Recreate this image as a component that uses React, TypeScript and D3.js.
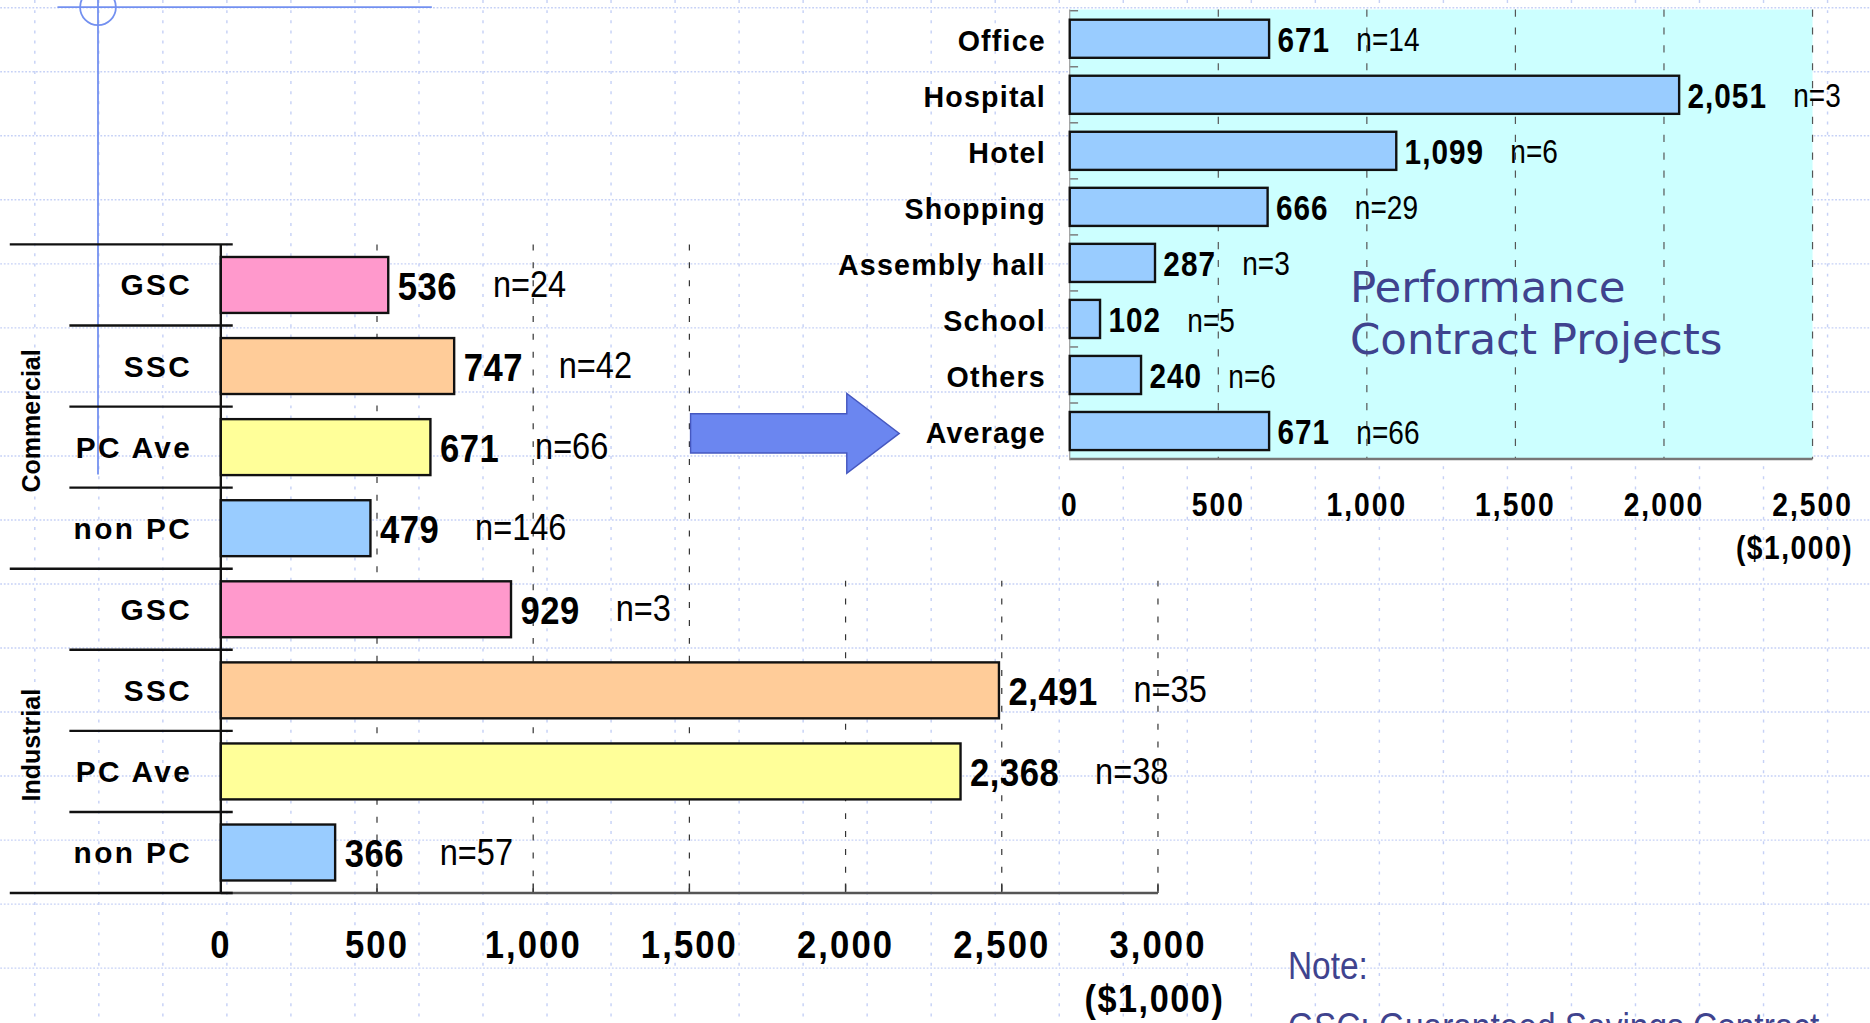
import React, { useEffect, useRef } from 'react';
import * as d3 from 'd3';

// left chart: cost per project by contract type
const groups = ['Commercial', 'Industrial'];
const contractTypes = ['GSC', 'SSC', 'PC Ave', 'non PC'];
const commercialCost = [536, 747, 671, 479];
const commercialCount = [24, 42, 66, 146];
const industrialCost = [929, 2491, 2368, 366];
const industrialCount = [3, 35, 38, 57];
const typeColors = ['#ff99cc', '#ffcc99', '#ffff99', '#99ccff'];
const leftTicks = [0, 500, 1000, 1500, 2000, 2500, 3000];

// right chart: performance contract projects by building type
const buildingTypes = ['Office', 'Hospital', 'Hotel', 'Shopping', 'Assembly hall', 'School', 'Others', 'Average'];
const pcCost = [671, 2051, 1099, 666, 287, 102, 240, 671];
const pcCount = [14, 3, 6, 29, 3, 5, 6, 66];
const rightTicks = [0, 500, 1000, 1500, 2000, 2500];

const W = 1568;
const H = 858;
const SANS = "'Liberation Sans', Arial, sans-serif";
const NAVY = '#3f438e';

type Sel = d3.Selection<SVGGElement, unknown, null, undefined>;

// narrow-looking text: no narrow font installed, so squeeze Liberation Sans horizontally
function narrowText(parent: Sel, x: number, y: number, sx: number, size: number, txt: string,
    opts: { bold?: boolean; anchor?: string; spacing?: number; fill?: string; baseline?: string } = {}) {
    const g = parent.append('g').attr('transform', `translate(${x},${y}) scale(${sx},1)`);
    const t = g.append('text')
        .attr('text-anchor', opts.anchor || 'start')
        .attr('dominant-baseline', opts.baseline || 'central')
        .attr('font-family', SANS)
        .attr('font-weight', opts.bold ? 'bold' : 'normal')
        .attr('font-size', size)
        .attr('letter-spacing', opts.spacing || 0)
        .attr('fill', opts.fill || '#000')
        .text(txt);
    return (t.node() as SVGTextElement).getComputedTextLength() * sx;
}

function drawSlide(svgRef: React.RefObject<SVGSVGElement>) {
    const svg = d3.select(svgRef.current);
    svg.selectAll('*').remove();
    const root = svg.append('g') as unknown as Sel;

    root.append('rect').attr('width', W).attr('height', H).attr('fill', '#fff');

    // slide grid
    const grid = root.append('g');
    d3.range(0, 17).forEach(k => {
        grid.append('line')
            .attr('x1', 0).attr('x2', W)
            .attr('y1', 6.5 + 53.7 * k).attr('y2', 6.5 + 53.7 * k)
            .attr('stroke', '#c6d1f6').attr('stroke-width', 1.2)
            .attr('stroke-dasharray', '1.5,1.5');
    });
    d3.range(0, 30).forEach(k => {
        grid.append('line')
            .attr('y1', 0).attr('y2', H)
            .attr('x1', 29 + 53.7 * k).attr('x2', 29 + 53.7 * k)
            .attr('stroke', '#c6d1f6').attr('stroke-width', 1.2)
            .attr('stroke-dasharray', '2.5,6');
    });

    // decorative slide marks
    root.append('line').attr('x1', 48).attr('x2', 362).attr('y1', 6).attr('y2', 6)
        .attr('stroke', '#7390f0').attr('stroke-width', 1.5);
    root.append('line').attr('x1', 82).attr('x2', 82).attr('y1', 0).attr('y2', 398)
        .attr('stroke', '#7390f0').attr('stroke-width', 1.5);
    root.append('circle').attr('cx', 82).attr('cy', 6).attr('r', 15)
        .attr('fill', 'none').attr('stroke', '#7390f0').attr('stroke-width', 1.5);

    // ---------- left chart ----------
    const rows = groups.flatMap(g => contractTypes.map(t => `${g}|${t}`));
    const leftData = groups.flatMap((g, gi) => contractTypes.map((t, ti) => ({
        id: `${g}|${t}`,
        type: t,
        color: typeColors[ti],
        cost: gi === 0 ? commercialCost[ti] : industrialCost[ti],
        n: gi === 0 ? commercialCount[ti] : industrialCount[ti],
    })));

    const yl = d3.scaleBand().domain(rows).range([205, 749]).paddingInner(0.31).paddingOuter(0.155);
    const xl = d3.scaleLinear().domain([0, 3000]).range([185, 971]);
    const stepL = yl.step();

    const left = root.append('g') as Sel;

    // dashed value lines
    leftTicks.slice(1).forEach(v => {
        left.append('line')
            .attr('x1', xl(v)).attr('x2', xl(v))
            .attr('y1', v <= 1500 ? 205 : 487).attr('y2', 749)
            .attr('stroke', '#333').attr('stroke-width', 1)
            .attr('stroke-dasharray', '5,10');
        left.append('line')
            .attr('x1', xl(v)).attr('x2', xl(v))
            .attr('y1', 741).attr('y2', 749)
            .attr('stroke', '#333').attr('stroke-width', 1.2);
    });

    // row separators
    rows.forEach((r, i) => {
        if (i === 0) return;
        const y = (yl(r) as number) - stepL * 0.155;
        const groupEdge = i % contractTypes.length === 0;
        left.append('line')
            .attr('x1', groupEdge ? 8 : 58).attr('x2', 195)
            .attr('y1', y).attr('y2', y)
            .attr('stroke', '#111').attr('stroke-width', 2);
    });
    left.append('line').attr('x1', 8).attr('x2', 195).attr('y1', 205).attr('y2', 205)
        .attr('stroke', '#111').attr('stroke-width', 2);
    left.append('line').attr('x1', 185).attr('x2', 971).attr('y1', 749).attr('y2', 749)
        .attr('stroke', '#555').attr('stroke-width', 2);
    left.append('line').attr('x1', 8).attr('x2', 195).attr('y1', 749).attr('y2', 749)
        .attr('stroke', '#111').attr('stroke-width', 2);
    left.append('line').attr('x1', 185).attr('x2', 185).attr('y1', 205).attr('y2', 749)
        .attr('stroke', '#111').attr('stroke-width', 2);

    // bars
    left.selectAll('rect.bar')
        .data(leftData)
        .join('rect')
        .attr('class', 'bar')
        .attr('x', xl(0))
        .attr('y', d => yl(d.id) as number)
        .attr('width', d => xl(d.cost) - xl(0))
        .attr('height', yl.bandwidth())
        .attr('fill', d => d.color)
        .attr('stroke', '#111')
        .attr('stroke-width', 2);

    // category, value and count labels
    leftData.forEach(d => {
        const cy = (yl(d.id) as number) + yl.bandwidth() / 2;
        left.append('text')
            .attr('x', 161).attr('y', cy)
            .attr('text-anchor', 'end').attr('dominant-baseline', 'central')
            .attr('font-family', SANS).attr('font-weight', 'bold')
            .attr('font-size', 25).attr('letter-spacing', 2)
            .text(d.type);
        const vx = xl(d.cost) + 8;
        const w = narrowText(left, vx, cy + 1, 0.88, 33, d3.format(',')(d.cost), { bold: true, spacing: 0.5 });
        narrowText(left, vx + w + 30, cy - 1, 0.88, 31, `n=${d.n}`);
    });

    // group labels
    groups.forEach(g => {
        const first = yl(`${g}|${contractTypes[0]}`) as number;
        const last = (yl(`${g}|${contractTypes[contractTypes.length - 1]}`) as number) + yl.bandwidth();
        const cy = (first + last) / 2 + 12;
        left.append('text')
            .attr('transform', `translate(26,${cy}) rotate(-90)`)
            .attr('text-anchor', 'middle').attr('dominant-baseline', 'central')
            .attr('font-family', SANS).attr('font-weight', 'bold')
            .attr('font-size', 21)
            .text(g);
    });

    // tick labels
    leftTicks.forEach(v => {
        narrowText(left, xl(v), 792, 0.88, 33, d3.format(',')(v), { bold: true, anchor: 'middle', spacing: 2 });
    });
    narrowText(left, 968, 838, 0.87, 33, '($1,000)', { bold: true, anchor: 'middle', spacing: 1.5 });

    // arrow
    root.append('path')
        .attr('d', 'M579,347 L710,347 L710,330 L754,363.5 L710,397 L710,380 L579,380 Z')
        .attr('fill', '#6b86f0').attr('stroke', '#4658c0').attr('stroke-width', 1.2);

    // ---------- right chart ----------
    const yr = d3.scaleBand().domain(buildingTypes).range([9, 385]).paddingInner(0.32).paddingOuter(0.16);
    const xr = d3.scaleLinear().domain([0, 2500]).range([897, 1520]);
    const right = root.append('g') as Sel;

    right.append('rect')
        .attr('x', xr(0)).attr('y', 8)
        .attr('width', xr(2500) - xr(0)).attr('height', 377)
        .attr('fill', '#ccffff');

    rightTicks.slice(1).forEach(v => {
        right.append('line')
            .attr('x1', xr(v)).attr('x2', xr(v))
            .attr('y1', 8).attr('y2', 385)
            .attr('stroke', '#555').attr('stroke-width', 1)
            .attr('stroke-dasharray', '6,9');
    });
    buildingTypes.forEach(b => {
        const y = (yr(b) as number) - yr.step() * 0.16;
        right.append('line')
            .attr('x1', xr(0)).attr('x2', xr(0) + 7)
            .attr('y1', y).attr('y2', y)
            .attr('stroke', '#777').attr('stroke-width', 1.2);
    });
    right.append('line').attr('x1', xr(0)).attr('x2', xr(2500)).attr('y1', 385).attr('y2', 385)
        .attr('stroke', '#777').attr('stroke-width', 2);
    right.append('line').attr('x1', xr(0)).attr('x2', xr(0)).attr('y1', 8).attr('y2', 386)
        .attr('stroke', '#999').attr('stroke-width', 1);

    right.selectAll('rect.bar')
        .data(buildingTypes)
        .join('rect')
        .attr('class', 'bar')
        .attr('x', xr(0))
        .attr('y', d => yr(d) as number)
        .attr('width', (_, i) => xr(pcCost[i]) - xr(0))
        .attr('height', yr.bandwidth())
        .attr('fill', '#99ccff')
        .attr('stroke', '#111')
        .attr('stroke-width', 2);

    buildingTypes.forEach((b, i) => {
        const cy = (yr(b) as number) + yr.bandwidth() / 2;
        right.append('text')
            .attr('x', 877).attr('y', cy + 2)
            .attr('text-anchor', 'end').attr('dominant-baseline', 'central')
            .attr('font-family', SANS).attr('font-weight', 'bold')
            .attr('font-size', 24).attr('letter-spacing', 1)
            .text(b);
        const vx = xr(pcCost[i]) + 7;
        const w = narrowText(right, vx, cy + 1, 0.86, 29, d3.format(',')(pcCost[i]), { bold: true, spacing: 1 });
        narrowText(right, vx + w + 22, cy + 1, 0.84, 28, `n=${pcCount[i]}`);
    });

    rightTicks.forEach(v => {
        narrowText(right, xr(v), 423, 0.845, 28, d3.format(',')(v), { bold: true, anchor: 'middle', spacing: 2 });
    });
    narrowText(right, 1554, 459, 0.845, 28, '($1,000)', { bold: true, anchor: 'end', spacing: 1.5 });

    ['Performance', 'Contract Projects'].forEach((t, i) => {
        right.append('text')
            .attr('x', 1132).attr('y', 241 + i * 43)
            .attr('dominant-baseline', 'central')
            .attr('font-family', "'DejaVu Sans', Verdana, sans-serif")
            .attr('font-size', 36.5)
            .attr('fill', NAVY)
            .text(t);
    });

    // note
    narrowText(root, 1080, 810, 0.85, 33, 'Note:', { fill: NAVY });
    narrowText(root, 1080, 872, 0.85, 33, 'GSC: Guaranteed Savings Contract', { fill: NAVY, baseline: 'auto' });
}

export default function App() {
    const svg = useRef<SVGSVGElement>(null);

    useEffect(() => {
        drawSlide(svg);
    }, [svg]);

    return (
        <svg
            ref={svg}
            width={1870}
            height={1023}
            viewBox={`0 0 ${W} ${H}`}
            style={{ position: 'absolute', left: 0, top: 0, display: 'block' }}
        />
    );
}
